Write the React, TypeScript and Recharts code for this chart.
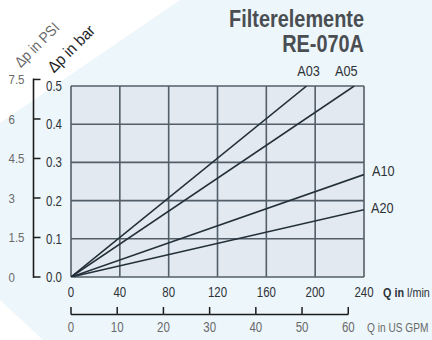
import React from 'react';
import { LineChart, Line, XAxis, YAxis, CartesianGrid, LabelList } from 'recharts';

// Flow axis (l/min) and the secondary US GPM scale
const flowTicks = [0, 40, 80, 120, 160, 200, 240];
const gpmTicks = [0, 10, 20, 30, 40, 50, 60];
// Pressure drop scales
const barTicks = [0, 0.1, 0.2, 0.3, 0.4, 0.5];
const barTickLabels = ['0.0', '0.1', '0.2', '0.3', '0.4', '0.5'];
const psiTicks = [0, 1.5, 3, 4.5, 6, 7.5];

// Characteristic curves: Δp (bar) against Q (l/min)
const a03 = [
  { q: 0, dp: 0 },
  { q: 193, dp: 0.5 },
];
const a05 = [
  { q: 0, dp: 0 },
  { q: 232, dp: 0.5 },
];
const a10 = [
  { q: 0, dp: 0 },
  { q: 240, dp: 0.268 },
];
const a20 = [
  { q: 0, dp: 0 },
  { q: 240, dp: 0.176 },
];

const LPM_PER_GPM = 3.785;
const PSI_PER_BAR = 14.5038;
const FLOW_MAX = 240;
const DP_MAX = 0.5;
const GPM_MAX = FLOW_MAX / LPM_PER_GPM;

// GPM scale endpoints, used only to register the secondary axis (no visible mark)
const gpmRange = [
  { g: 0, v: null },
  { g: GPM_MAX, v: null },
];

const W = 432;
const H = 340;
const PLOT_L = 71;
const PLOT_T = 86;
const PLOT_R = 364;
const PLOT_B = 277;
const PLOT_W = PLOT_R - PLOT_L;
const GPM_STEP_PX = (PLOT_W * 10) / GPM_MAX;

const FONT = "'Liberation Sans', Arial, sans-serif";
const INK = '#2e3338';
const GREY = '#6a6a6a';
const GRID = '#535e68';
const LINE = '#232f39';

// Horizontally condensed text, drawn about its anchor point
const CText = ({
  x,
  y,
  size = 14,
  sx = 0.82,
  anchor = 'start',
  weight = 'normal',
  fill = INK,
  rotate = 0,
  children,
}: any) => (
  <text
    transform={`translate(${x},${y}) rotate(${rotate}) scale(${sx},1)`}
    x={0}
    y={0}
    fontSize={size}
    fontFamily={FONT}
    fontWeight={weight}
    fill={fill}
    textAnchor={anchor}
  >
    {children}
  </text>
);

const BarTick = (props: any) => {
  const { y, payload } = props;
  const i = barTicks.indexOf(payload.value);
  return (
    <CText x={46} y={y + 5} size={14}>
      {barTickLabels[i]}
    </CText>
  );
};

const PsiTick = (props: any) => {
  const { y, payload } = props;
  const isTop = payload.value === psiTicks[psiTicks.length - 1];
  return (
    <g>
      {isTop && (
        <line x1={33.5} x2={33.5} y1={y - 0.8} y2={PLOT_B + 0.8} stroke="#1c1c1c" strokeWidth={1.6} />
      )}
      <line x1={33} x2={40.5} y1={y} y2={y} stroke="#1c1c1c" strokeWidth={1.5} />
      <CText x={8.5} y={y + 5} size={13.5} sx={0.85} fill={GREY}>
        {String(payload.value)}
      </CText>
    </g>
  );
};

const FlowTick = (props: any) => {
  const { x, payload } = props;
  return (
    <CText x={x} y={296.5} size={14} anchor="middle">
      {String(payload.value)}
    </CText>
  );
};

const GpmTick = (props: any) => {
  const { x, payload, index } = props;
  return (
    <g>
      {index > 0 && (
        <line x1={x - GPM_STEP_PX} x2={x} y1={314.5} y2={314.5} stroke="#1c1c1c" strokeWidth={1.5} />
      )}
      <line x1={x} x2={x} y1={307} y2={314.5} stroke="#1c1c1c" strokeWidth={1.5} />
      <CText x={x} y={332} size={14} anchor="middle" fill={GREY}>
        {String(payload.value)}
      </CText>
    </g>
  );
};

const endLabel = (name: string, dx: number, dy: number, anchor: string) => (props: any) => {
  const { x, y, index } = props;
  if (index !== 1) return null;
  return (
    <CText x={x + dx} y={y + dy} size={15.5} anchor={anchor}>
      {name}
    </CText>
  );
};

const series = [
  { name: 'A03', data: a03, label: endLabel('A03', 2, -10, 'middle') },
  { name: 'A05', data: a05, label: endLabel('A05', -8, -10, 'middle') },
  { name: 'A10', data: a10, label: endLabel('A10', 8, 1, 'start') },
  { name: 'A20', data: a20, label: endLabel('A20', 7, 3, 'start') },
];

export default function App() {
  return (
    <div style={{ position: 'absolute', left: 0, top: 0, width: W, height: H, background: '#edf6fb' }}>
      <svg width={W} height={H} style={{ position: 'absolute', left: 0, top: 0 }}>
        <polygon points="0,0 180,0 0,123" fill="#ffffff" />
        <polygon points="0,300 0,340 43,340" fill="#ffffff" />
      </svg>
      <div style={{ position: 'absolute', left: 0, top: 0 }}>
        <LineChart
          width={W}
          height={H}
          margin={{ top: PLOT_T, right: W - PLOT_R, bottom: 0, left: 0 }}
        >
          <XAxis
            xAxisId="lpm"
            dataKey="q"
            type="number"
            domain={[0, FLOW_MAX]}
            ticks={flowTicks}
            interval={0}
            allowDataOverflow
            axisLine={false}
            tickLine={false}
            height={30}
            tick={<FlowTick />}
          />
          <XAxis
            xAxisId="gpm"
            dataKey="g"
            type="number"
            domain={[0, GPM_MAX]}
            ticks={gpmTicks}
            interval={0}
            allowDataOverflow
            axisLine={false}
            tickLine={false}
            height={H - PLOT_B - 30}
            tick={GpmTick}
          />
          <YAxis
            yAxisId="bar"
            type="number"
            domain={[0, DP_MAX]}
            ticks={barTicks}
            interval={0}
            allowDataOverflow
            axisLine={false}
            tickLine={false}
            width={38}
            tick={<BarTick />}
          />
          <YAxis
            yAxisId="psi"
            type="number"
            domain={[0, DP_MAX * PSI_PER_BAR]}
            ticks={psiTicks}
            interval={0}
            allowDataOverflow
            axisLine={false}
            tickLine={false}
            width={PLOT_L - 38}
            tick={<PsiTick />}
          />
          <CartesianGrid
            xAxisId="lpm"
            yAxisId="bar"
            stroke={GRID}
            strokeWidth={1.6}
            strokeOpacity={1}
            fill="#e2e9f0"
            fillOpacity={1}
          />
          <Line
            xAxisId="gpm"
            yAxisId="bar"
            data={gpmRange}
            dataKey="v"
            stroke="none"
            dot={false}
            activeDot={false}
            legendType="none"
            isAnimationActive={false}
          />
          {series.map((s) => (
            <Line
              key={s.name}
              xAxisId="lpm"
              yAxisId="bar"
              data={s.data}
              dataKey="dp"
              type="linear"
              stroke={LINE}
              strokeWidth={1.6}
              dot={false}
              activeDot={false}
              isAnimationActive={false}
            >
              <LabelList dataKey="dp" content={s.label} />
            </Line>
          ))}
        </LineChart>
      </div>
      <svg width={W} height={H} style={{ position: 'absolute', left: 0, top: 0, pointerEvents: 'none' }}>
        <CText x={PLOT_R} y={27} size={23} sx={0.865} anchor="end" weight="bold" fill="#4a4e52">
          Filterelemente
        </CText>
        <CText x={PLOT_R} y={52} size={23} sx={0.865} anchor="end" weight="bold" fill="#4a4e52">
          RE-070A
        </CText>
        <CText x={40.5} y={48.5} size={15} sx={0.9} anchor="middle" fill={GREY} rotate={-45}>
          Δp in PSI
        </CText>
        <CText x={75} y={52.5} size={16} sx={0.93} anchor="middle" fill="#1e1e1e" rotate={-45}>
          Δp in bar
        </CText>
        <CText x={383} y={296.5} size={13.5} sx={0.8}>
          <tspan fontWeight="bold">Q in</tspan> l/min
        </CText>
        <CText x={367} y={332} size={13} sx={0.78} fill={GREY}>
          Q in US GPM
        </CText>
      </svg>
    </div>
  );
}
